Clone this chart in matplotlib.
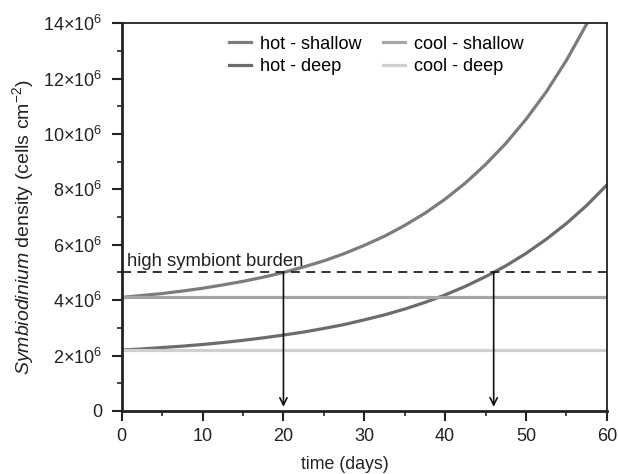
import matplotlib
matplotlib.use('Agg')
import matplotlib.pyplot as plt
from matplotlib.ticker import MultipleLocator, FuncFormatter

plt.rcParams['font.family'] = ['Liberation Sans', 'DejaVu Sans']
plt.rcParams['mathtext.fontset'] = 'custom'
plt.rcParams['mathtext.rm'] = 'Liberation Sans'
plt.rcParams['mathtext.it'] = 'Liberation Sans:italic'

# days sampled along the curves
days = [0, 2.5, 5, 7.5, 10, 12.5, 15, 17.5, 20, 22.5, 25, 27.5, 30, 32.5,
        35, 37.5, 40, 42.5, 45, 47.5, 50, 52.5, 55, 57.5, 60]

# densities in millions of cells per cm2
hot_shallow = [4.10, 4.17, 4.24, 4.33, 4.43, 4.55, 4.68, 4.83, 5.00, 5.20,
               5.42, 5.68, 5.98, 6.31, 6.70, 7.14, 7.65, 8.23, 8.90, 9.66,
               10.53, 11.52, 12.66, 13.97, 15.45]
hot_deep = [2.20, 2.24, 2.29, 2.34, 2.40, 2.47, 2.55, 2.64, 2.74, 2.85,
            2.98, 3.12, 3.29, 3.47, 3.68, 3.92, 4.19, 4.50, 4.85, 5.24,
            5.69, 6.20, 6.77, 7.42, 8.16]
cool_shallow = [4.10] * len(days)
cool_deep = [2.20] * len(days)

burden = 5.0          # high symbiont burden threshold (x10^6)
burden_days = [20, 46]  # days each hot curve crosses the threshold

fig = plt.figure(figsize=(6.18, 4.74), dpi=100)
ax = fig.add_axes([0.197, 0.133, 0.785, 0.818])

scale = 1e6
ax.plot(days, [v * scale for v in hot_shallow], color='#7c7c7c', lw=2.3, label='hot - shallow')
ax.plot(days, [v * scale for v in hot_deep], color='#6c6c6c', lw=2.3, label='hot - deep')
ax.plot(days, [v * scale for v in cool_shallow], color='#a6a6a6', lw=2.3, label='cool - shallow')
ax.plot(days, [v * scale for v in cool_deep], color='#d0d0d0', lw=2.3, label='cool - deep')

ax.axhline(burden * scale, color='#222222', lw=1.3, ls=(0, (5, 3.5)))
ax.text(0.6, burden * scale + 0.25e6, 'high symbiont burden', fontsize=13.3, color='#222222')

for d in burden_days:
    ax.annotate('', xy=(d, 0.15e6), xytext=(d, burden * scale),
                arrowprops=dict(arrowstyle='->', color='#111111', lw=1.2,
                                mutation_scale=13, shrinkA=0, shrinkB=0))

ax.set_xlim(0, 60)
ax.set_ylim(0, 14e6)
ax.xaxis.set_major_locator(MultipleLocator(10))
ax.xaxis.set_minor_locator(MultipleLocator(5))
ax.yaxis.set_major_locator(MultipleLocator(2e6))
ax.yaxis.set_minor_locator(MultipleLocator(1e6))


def fmt_y(v, pos):
    if v == 0:
        return '0'
    return r'%d$\times$10$^{6}$' % round(v / 1e6)


ax.yaxis.set_major_formatter(FuncFormatter(fmt_y))
ax.tick_params(which='major', direction='out', length=7, width=1.5, labelsize=13, colors='#222222')
ax.tick_params(which='minor', direction='out', length=3.5, width=1.2, colors='#222222')
ax.tick_params(axis='x', pad=5)
ax.tick_params(axis='y', pad=7)

for side in ['left', 'bottom']:
    ax.spines[side].set_linewidth(2.0)
for side in ['top', 'right']:
    ax.spines[side].set_linewidth(1.3)
for s in ax.spines.values():
    s.set_color('#222222')

ax.set_xlabel('time (days)', fontsize=12.8, color='#222222')
ax.xaxis.set_label_coords(0.46, -0.115)
ax.set_ylabel(r'$\it{Symbiodinium}$ density (cells cm$^{-2}$)', fontsize=14, color='#222222')
ax.yaxis.set_label_coords(-0.177, 0.474)

ax.legend(ncol=2, loc='upper left', bbox_to_anchor=(0.222, 0.968), frameon=False,
          fontsize=13.1, handlelength=1.2, handletextpad=0.5, columnspacing=1.15,
          labelspacing=0.3, borderpad=0, borderaxespad=0)

fig.savefig('out.png', dpi=100)
